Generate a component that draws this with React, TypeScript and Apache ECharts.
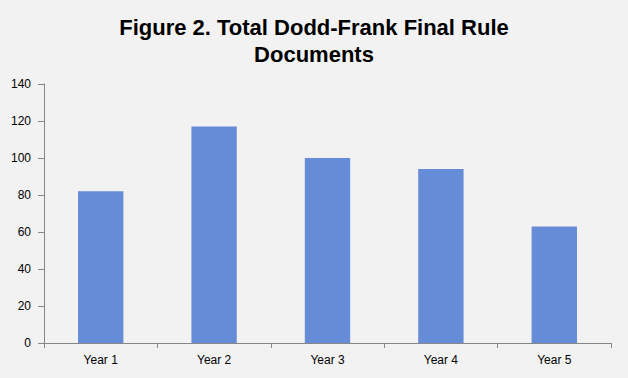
import React, { useEffect, useRef } from "react";
import * as echarts from "echarts";

const categories = ["Year 1", "Year 2", "Year 3", "Year 4", "Year 5"];
const documents = [82, 117, 100, 94, 63];
const yTicks = { min: 0, max: 140, interval: 20 };
const titleLines = ["Figure 2. Total Dodd-Frank Final Rule", "Documents"];

const titleFont = {
  fontFamily: "Liberation Sans, Arial, sans-serif",
  fontSize: 22,
  fontWeight: "bold",
  color: "#000",
};

export default function App() {
  const ref = useRef<HTMLDivElement>(null);

  useEffect(() => {
    document.body.style.margin = "0";
    const chart = echarts.init(ref.current!, null, { renderer: "svg" });
    chart.setOption({
      animation: false,
      backgroundColor: "#f2f2f2",
      title: [
        { text: titleLines[0], left: "center", top: 16, padding: 0, textStyle: titleFont },
        { text: titleLines[1], left: "center", top: 43, padding: 0, textStyle: titleFont },
      ],
      grid: { left: 44, right: 17, top: 84, bottom: 35 },
      xAxis: {
        type: "category",
        data: categories,
        axisLine: { lineStyle: { color: "#868686", width: 1 } },
        axisTick: { show: true, length: 5, lineStyle: { color: "#868686" } },
        axisLabel: {
          color: "#000",
          fontFamily: "Liberation Sans, Arial, sans-serif",
          fontSize: 12,
          margin: 11,
        },
      },
      yAxis: {
        type: "value",
        min: yTicks.min,
        max: yTicks.max,
        interval: yTicks.interval,
        axisLine: { show: true, lineStyle: { color: "#868686", width: 1 } },
        axisTick: { show: true, length: 6, lineStyle: { color: "#868686" } },
        splitLine: { show: false },
        axisLabel: {
          color: "#000",
          fontFamily: "Liberation Sans, Arial, sans-serif",
          fontSize: 12,
          margin: 13,
        },
      },
      series: [
        {
          type: "bar",
          data: documents,
          barWidth: "40%",
          itemStyle: { color: "#668bd7" },
        },
      ],
    });
    return () => chart.dispose();
  }, []);

  return <div ref={ref} style={{ width: 628, height: 378 }} />;
}
